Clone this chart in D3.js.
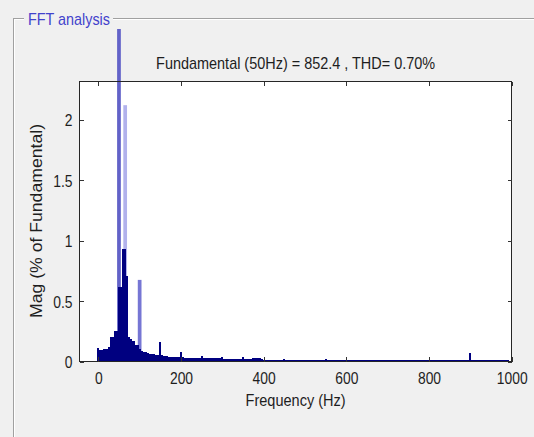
<!DOCTYPE html>
<html><head><meta charset="utf-8">
<script src="https://cdn.jsdelivr.net/npm/d3@7"></script>
<style>body{margin:0;background:#f0f0f0;overflow:hidden}svg{display:block}</style>
</head><body>
<svg id="c" width="534" height="437"></svg>
<script>
// ---- data ----
const binStep = 5; // Hz per FFT bin
const magnitudes = [
  0.11,0.095,0.095,0.10,0.10,0.12,0.20,0.20,0.25,0.25,0.62,0.62,0.93,0.93,0.71,0.20,0.19,0.17,0.14,0.14,
  0.10,0.085,0.08,0.075,0.067,0.065,0.06,0.06,0.055,0.055,0.16,0.05,0.045,0.045,0.038,0.036,0.036,0.035,0.035,0.034,
  0.08,0.034,0.033,0.032,0.03,0.03,0.027,0.026,0.026,0.026,0.045,0.03,0.028,0.028,0.027,0.026,0.025,0.025,0.025,0.025,
  0.036,0.024,0.023,0.022,0.022,0.022,0.021,0.021,0.021,0.02,0.036,0.02,0.019,0.018,0.02,0.028,0.028,0.027,0.026,0.02,
  0.016,0.015,0.015,0.016,0.015,0.014,0.015,0.014,0.015,0.016,0.024,0.015,0.014,0.014,0.015,0.014,0.013,0.014,0.014,0.013,
  0.014,0.013,0.013,0.014,0.013,0.013,0.014,0.013,0.013,0.014,0.023,0.014,0.013,0.013,0.012,0.013,0.013,0.012,0.013,0.013,
  0.014,0.013,0.012,0.013,0.012,0.012,0.013,0.012,0.012,0.013,0.012,0.012,0.013,0.012,0.012,0.012,0.013,0.012,0.012,0.012,
  0.012,0.013,0.012,0.012,0.012,0.012,0.013,0.012,0.012,0.012,0.012,0.012,0.013,0.012,0.012,0.012,0.012,0.012,0.013,0.012,
  0.013,0.012,0.012,0.012,0.012,0.012,0.012,0.013,0.012,0.012,0.012,0.012,0.012,0.012,0.012,0.013,0.012,0.012,0.012,0.012,
  0.073,0.013,0.012,0.012,0.012,0.012,0.012,0.012,0.012,0.012,0.012,0.012,0.012,0.012,0.012,0.012,0.012,0.012,0.012
];
const spikeFreqs = [50, 65, 100];
const spikeMags  = [2.75, 2.12, 0.675];
const xTicks = [0, 200, 400, 600, 800, 1000];
const yTicks = [0, 0.5, 1, 1.5, 2];
const yTickLabels = ["0", "0.5", "1", "1.5", "2"];
const panelTitle = "FFT analysis";
const chartTitle = "Fundamental (50Hz) = 852.4 , THD= 0.70%";
const xLabel = "Frequency (Hz)";
const yLabel = "Mag (% of Fundamental)";

// ---- layout ----
const svg = d3.select("#c");
const FONT = "'Liberation Sans', Arial, sans-serif";
const L = 79.5, R = 511.7, T = 81.5, B = 361.5;
const x = d3.scaleLinear().domain([0, 1000]).range([98.3, 511.7]);
const xLeftHz = x.invert(L);
const y = d3.scaleLinear().domain([0, 2.32]).range([B, T - 0.5]);

svg.append("rect").attr("width", 534).attr("height", 437).attr("fill", "#f0f0f0");

// group box frame
const fr = svg.append("g").attr("shape-rendering", "crispEdges");
[["#a0a0a0", 0], ["#ffffff", 1]].forEach(([c, o]) => {
  fr.append("path").attr("fill", "none").attr("stroke", c)
    .attr("d", `M${24},${18.5 + o}H${13.5 + o}V437 M${113},${18.5 + o}H534`);
});
svg.append("text").attr("x", 28).attr("y", 24.5)
  .attr("font-family", FONT).attr("font-size", 17).attr("fill", "#4242cc")
  .attr("textLength", 82).attr("lengthAdjust", "spacingAndGlyphs").text(panelTitle);

// plot area
svg.append("rect").attr("x", L).attr("y", T).attr("width", R - L).attr("height", B - T)
  .attr("fill", "#ffffff");

// spikes (behind the main spectrum)
const spikeColors = ["#6262c8", "#b2b2ec", "#7676d4"];
const spikeW = 9;
svg.append("g").selectAll("rect").data(spikeFreqs).join("rect")
  .attr("x", d => x(d - spikeW / 2))
  .attr("width", d => x(d + spikeW / 2) - x(d - spikeW / 2))
  .attr("y", (d, i) => y(spikeMags[i]))
  .attr("height", (d, i) => B - y(spikeMags[i]))
  .attr("fill", (d, i) => spikeColors[i]);

// spectrum bins
svg.append("g").attr("shape-rendering", "crispEdges")
  .selectAll("rect").data(magnitudes).join("rect")
  .attr("x", (d, i) => x(i * binStep - binStep / 2))
  .attr("width", x(binStep) - x(0) + 0.05)
  .attr("y", d => y(d))
  .attr("height", d => B - y(d))
  .attr("fill", "#000080");

// frame border
svg.append("rect").attr("x", L).attr("y", T).attr("width", R - L).attr("height", B - T)
  .attr("fill", "none").attr("stroke", "#262626").attr("stroke-width", 1)
  .attr("shape-rendering", "crispEdges");

function digitsLen(s) {
  let w = 0; for (const ch of s) w += (ch === "." ? 3.9 : 7.7); return w;
}
function styleAxis(g) {
  g.select(".domain").remove();
  g.selectAll(".tick line").attr("stroke", "#333").attr("shape-rendering", "crispEdges");
  g.selectAll(".tick text").attr("font-family", FONT).attr("font-size", 17).attr("fill", "#1e1e1e")
    .attr("lengthAdjust", "spacingAndGlyphs")
    .attr("textLength", function () { return digitsLen(this.textContent); });
}

svg.append("g").attr("transform", `translate(0,${B})`)
  .call(d3.axisBottom(x).tickValues(xTicks).tickSizeInner(-5).tickSizeOuter(0).tickPadding(10).tickFormat(d3.format("d")))
  .call(styleAxis);
svg.append("g").attr("transform", `translate(0,${T})`)
  .call(d3.axisTop(x).tickValues(xTicks).tickSizeInner(-4).tickSizeOuter(0).tickFormat(""))
  .call(styleAxis);
svg.append("g").attr("transform", `translate(${L},0)`)
  .call(d3.axisLeft(y).tickValues(yTicks).tickSizeInner(-4).tickSizeOuter(0).tickPadding(7)
    .tickFormat((d, i) => yTickLabels[i]))
  .call(styleAxis);
svg.append("g").attr("transform", `translate(${R},0)`)
  .call(d3.axisRight(y).tickValues(yTicks).tickSizeInner(-4).tickSizeOuter(0).tickFormat(""))
  .call(styleAxis);
svg.selectAll("g.tick text").each(function () {
  const t = d3.select(this);
  if (t.attr("dy") === "0.32em") t.attr("dy", "0.36em");
});

// titles
svg.append("text").attr("x", (L + R) / 2).attr("y", 68.5).attr("text-anchor", "middle")
  .attr("font-family", FONT).attr("font-size", 17).attr("fill", "#1e1e1e")
  .attr("textLength", 279).attr("lengthAdjust", "spacingAndGlyphs").text(chartTitle);
svg.append("text").attr("x", (L + R) / 2).attr("y", 406).attr("text-anchor", "middle")
  .attr("font-family", FONT).attr("font-size", 17).attr("fill", "#1e1e1e")
  .attr("textLength", 100).attr("lengthAdjust", "spacingAndGlyphs").text(xLabel);
svg.append("text").attr("transform", `translate(42,221) rotate(-90)`).attr("text-anchor", "middle")
  .attr("font-family", FONT).attr("font-size", 16).attr("fill", "#1e1e1e")
  .attr("textLength", 194).attr("lengthAdjust", "spacingAndGlyphs").text(yLabel);
</script>
</body></html>
